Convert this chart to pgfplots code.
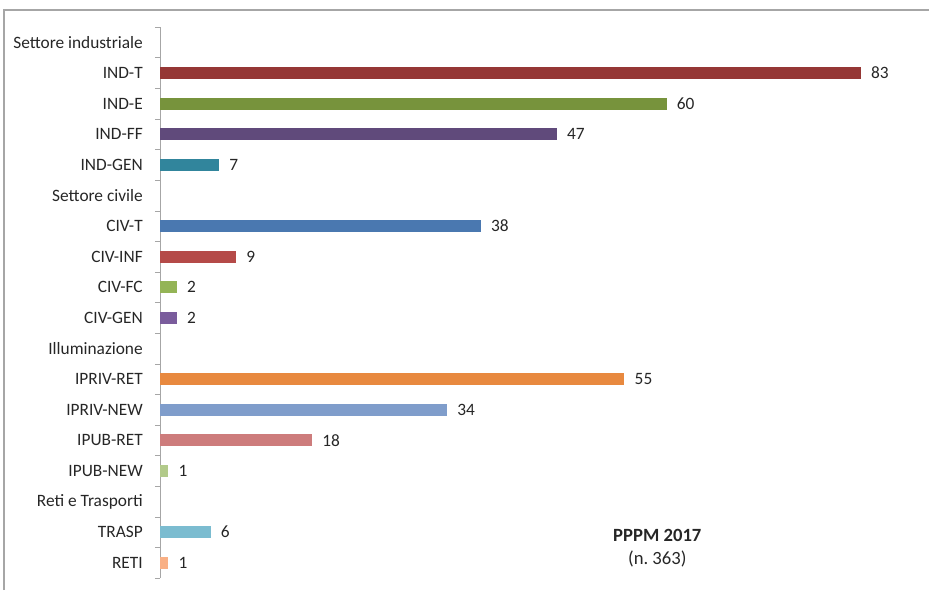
\documentclass[border=0pt]{standalone}
\usepackage{pgfplots}
\pgfplotsset{compat=1.18}
\usepackage{fontspec}
\setmainfont{Carlito}

\definecolor{indt}{HTML}{953735}
\definecolor{inde}{HTML}{77933C}
\definecolor{indff}{HTML}{604A7B}
\definecolor{indgen}{HTML}{31859C}
\definecolor{civt}{HTML}{4A78B0}
\definecolor{civinf}{HTML}{B54A48}
\definecolor{civfc}{HTML}{94B456}
\definecolor{civgen}{HTML}{7A5C9C}
\definecolor{iprivret}{HTML}{E8893F}
\definecolor{iprivnew}{HTML}{7F9DCB}
\definecolor{ipubret}{HTML}{CD7C7C}
\definecolor{ipubnew}{HTML}{B2CA8A}
\definecolor{trasp}{HTML}{7BBCD0}
\definecolor{reti}{HTML}{F9B085}
\definecolor{txt}{HTML}{262626}

\begin{document}
\begin{tikzpicture}[font=\fontsize{13}{15}\selectfont]
% 1px of the reference = 0.75pt
\useasboundingbox (0,0) rectangle (696.75pt,442.5pt);
\draw[gray!70,line width=1.2pt] (3pt,0pt) -- (3pt,435pt) -- (696.75pt,435pt);
\begin{axis}[
    at={(120pt,9pt)}, anchor=south west,
    scale only axis,
    width=570pt, height=413.25pt,
    xbar, bar width=9pt, bar shift=0pt,
    xmin=0, xmax=90,
    ymin=-0.5, ymax=17.5, y dir=reverse,
    axis x line=none,
    axis y line*=left,
    axis line style={-,draw=gray!70},
    ytick={0,...,17},
    yticklabels={Settore industriale,IND-T,IND-E,IND-FF,IND-GEN,
        Settore civile,CIV-T,CIV-INF,CIV-FC,CIV-GEN,
        Illuminazione,IPRIV-RET,IPRIV-NEW,IPUB-RET,IPUB-NEW,
        Reti e Trasporti,TRASP,RETI},
    major tick length=0pt,
    minor ytick={-0.5,0.5,...,17.5},
    minor tick length=3.75pt,
    tick align=outside,
    ytick pos=left,
    tick style={gray!70},
    yticklabel style={inner sep=0pt,xshift=-12.75pt,text=txt},
    /pgf/number format/assume math mode=true,
    nodes near coords,
    every node near coord/.append style={anchor=west,inner sep=0pt,xshift=7.5pt,text=txt},
    clip=false,
    ]
\addplot[fill=indt,draw=none] coordinates {(83,1)};
\addplot[fill=inde,draw=none] coordinates {(60,2)};
\addplot[fill=indff,draw=none] coordinates {(47,3)};
\addplot[fill=indgen,draw=none] coordinates {(7,4)};
\addplot[fill=civt,draw=none] coordinates {(38,6)};
\addplot[fill=civinf,draw=none] coordinates {(9,7)};
\addplot[fill=civfc,draw=none] coordinates {(2,8)};
\addplot[fill=civgen,draw=none] coordinates {(2,9)};
\addplot[fill=iprivret,draw=none] coordinates {(55,11)};
\addplot[fill=iprivnew,draw=none] coordinates {(34,12)};
\addplot[fill=ipubret,draw=none] coordinates {(18,13)};
\addplot[fill=ipubnew,draw=none] coordinates {(1,14)};
\addplot[fill=trasp,draw=none] coordinates {(6,16)};
\addplot[fill=reti,draw=none] coordinates {(1,17)};
\end{axis}
\node[font=\fontsize{14}{16}\selectfont\bfseries,text=txt] at (493pt,41pt) {PPPM 2017};
\node[font=\fontsize{14}{16}\selectfont,text=txt] at (493pt,23pt) {(n.\ 363)};
\end{tikzpicture}
\end{document}
